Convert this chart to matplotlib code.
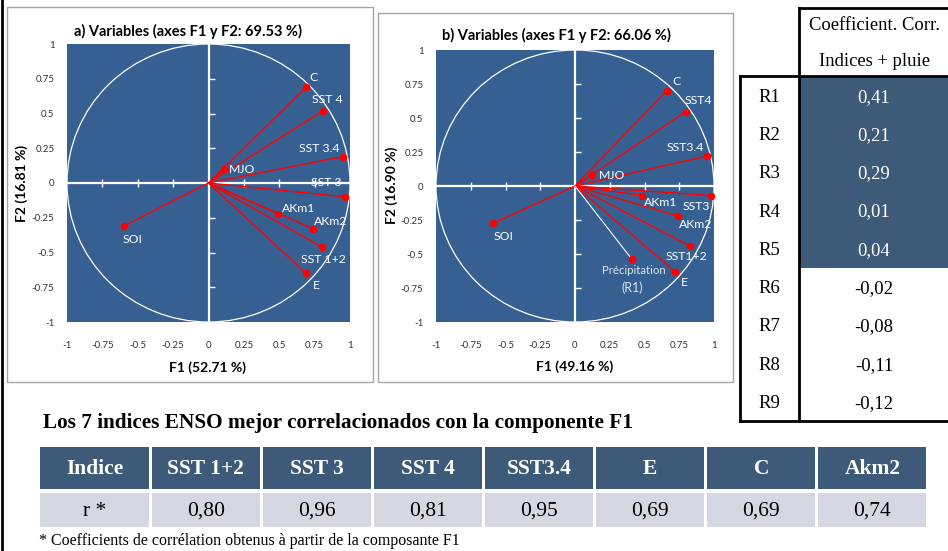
import numpy as np
import matplotlib.pyplot as plt
from matplotlib.patches import Rectangle, Circle

# cercle des correlations a) : indices ENSO seuls
names_a = ['C', 'SST 4', 'SST 3.4', 'SST 3', 'MJO', 'AKm1', 'AKm2', 'SST 1+2', 'E', 'SOI']
f1_a = [0.69, 0.81, 0.95, 0.965, 0.11, 0.49, 0.74, 0.80, 0.69, -0.60]
f2_a = [0.69, 0.52, 0.19, -0.10, 0.10, -0.22, -0.33, -0.46, -0.65, -0.31]

# cercle b) : indices + precipitation R1
names_b = ['C', 'SST4', 'SST3.4', 'MJO', 'SST3', 'AKm1', 'AKm2', 'SST1+2', 'E', 'SOI']
f1_b = [0.66, 0.795, 0.95, 0.12, 0.975, 0.485, 0.74, 0.825, 0.72, -0.59]
f2_b = [0.70, 0.545, 0.22, 0.08, -0.07, -0.07, -0.22, -0.44, -0.63, -0.275]
precip_b = (0.41, -0.54)

# tableau de droite
regions = ['R1', 'R2', 'R3', 'R4', 'R5', 'R6', 'R7', 'R8', 'R9']
corr_rain = [0.41, 0.21, 0.29, 0.01, 0.04, -0.02, -0.08, -0.11, -0.12]
n_blue = 5

# tableau du bas
enso_idx = ['SST 1+2', 'SST 3', 'SST 4', 'SST3.4', 'E', 'C', 'Akm2']
r_f1 = [0.80, 0.96, 0.81, 0.95, 0.69, 0.69, 0.74]

# position des etiquettes (unites des axes)
lab_a = [(0.74, 0.76), (0.84, 0.60), (0.78, 0.25), (0.835, 0.0), (0.24, 0.10),
         (0.635, -0.18), (0.86, -0.28), (0.81, -0.55), (0.765, -0.74), (-0.54, -0.41)]
lab_b = [(0.73, 0.77), (0.89, 0.63), (0.795, 0.28), (0.27, 0.08), (0.87, -0.15),
         (0.615, -0.12), (0.87, -0.28), (0.80, -0.515), (0.79, -0.71), (-0.515, -0.37)]

W, H = 948, 551
SANS = 'Lato'
SERIF = 'Liberation Serif'
PLOT_BG = '#366092'
TAB_BLUE = '#3d5a78'
TAB_GREY = '#d5d8e2'


def fmt(v):
    return ('%.2f' % v).replace('.', ',')


def px_axes(x0, y0, x1, y1):
    return fig.add_axes([x0 / W, 1 - y1 / H, (x1 - x0) / W, (y1 - y0) / H])


def circle_plot(ax, names, f1, f2, labpos):
    ax.set_facecolor(PLOT_BG)
    ax.set_xlim(-1, 1)
    ax.set_ylim(-1, 1)
    for s in ax.spines.values():
        s.set_visible(False)
    ticks = np.arange(-1, 1.01, 0.25)
    ax.set_xticks(ticks)
    ax.set_yticks(ticks)
    ax.set_xticklabels(['%g' % t for t in ticks])
    ax.set_yticklabels(['%g' % t for t in ticks])
    ax.tick_params(length=0, labelsize=7, labelcolor='#333333')
    ax.tick_params(axis='x', pad=14)
    ax.tick_params(axis='y', pad=9)
    for lab in ax.get_xticklabels() + ax.get_yticklabels():
        lab.set_family(SANS)
    ax.add_patch(Circle((0, 0), 1, fill=False, ec='white', lw=0.9))
    ax.axhline(0, color='white', lw=1.6)
    ax.axvline(0, color='white', lw=1.6)
    tk = ticks[(ticks != 0) & (np.abs(ticks) != 1)]
    ax.plot(tk, np.zeros_like(tk), ls='none', marker='|', ms=6, mew=1, color='white')
    ax.plot(np.zeros_like(tk), tk, ls='none', marker=1, ms=4, mew=1, color='white')
    for x, y in zip(f1, f2):
        ax.plot([0, x], [0, y], color='red', lw=1)
    ax.plot(f1, f2, 'o', color='red', ms=4.5)
    for n, (lx, ly) in zip(names, labpos):
        ax.text(lx, ly, n, color='white', fontsize=8.8, family=SANS,
                ha='center', va='center')


fig = plt.figure(figsize=(W / 100, H / 100), dpi=100)

# calque en pixels pour cadres, titres et tableaux
ov = fig.add_axes([0, 0, 1, 1])
ov.set_xlim(0, W)
ov.set_ylim(H, 0)
ov.axis('off')

ov.plot([2, 2], [0, H], color='black', lw=2)
ov.add_patch(Rectangle((7, 7), 366, 375, fill=False, ec='#a6a6a6', lw=1))
ov.add_patch(Rectangle((378, 13), 355, 369, fill=False, ec='#a6a6a6', lw=1))

tkw = dict(fontsize=10.5, weight='bold', family=SANS, ha='center', va='center')
ov.text(188, 31, 'a) Variables (axes F1 y F2: 69.53 %)', **tkw)
ov.text(556, 35, 'b) Variables (axes F1 y F2: 66.06 %)', **tkw)
lkw = dict(fontsize=10, weight='bold', family=SANS, ha='center', va='center')
ov.text(208, 368, 'F1 (52.71 %)', **lkw)
ov.text(575, 367, 'F1 (49.16 %)', **lkw)
ov.text(22, 183, 'F2 (16.81 %)', rotation=90, **lkw)
ov.text(392, 185, 'F2 (16.90 %)', rotation=90, **lkw)

ax_a = px_axes(67, 44, 350, 322)
circle_plot(ax_a, names_a, f1_a, f2_a, lab_a)

ax_b = px_axes(436, 50, 714, 322)
circle_plot(ax_b, names_b, f1_b, f2_b, lab_b)
ax_b.plot([0, precip_b[0]], [0, precip_b[1]], color='white', lw=0.8)
ax_b.plot(*precip_b, 'o', color='red', ms=4.5)
ax_b.text(precip_b[0] + 0.01, precip_b[1] - 0.085, 'Précipitation', color='#dde3ee',
          fontsize=8.2, family=SANS, ha='center', va='center')
ax_b.text(precip_b[0], precip_b[1] - 0.21, '(R1)', color='#dde3ee',
          fontsize=9, family=SANS, ha='center', va='center')

# tableau des correlations avec la pluie
row_h = 38.3
top = 76
ov.add_patch(Rectangle((799, top), W - 799, row_h * n_blue, color=TAB_BLUE, lw=0))
lk = dict(color='black', lw=2, solid_capstyle='projecting')
ov.plot([799, W], [8, 8], **lk)
ov.plot([799, 799], [8, top + row_h * len(regions)], **lk)
ov.plot([740, W], [top, top], **lk)
ov.plot([740, 740], [top, top + row_h * len(regions)], **lk)
ov.plot([740, W], [top + row_h * len(regions)] * 2, **lk)
ov.text(875, 26, 'Coefficient. Corr.', fontsize=13.4, family=SERIF, ha='center', va='center')
ov.text(875, 62, 'Indices + pluie', fontsize=13.4, family=SERIF, ha='center', va='center')
for i, (r, v) in enumerate(zip(regions, corr_rain)):
    yc = top + row_h * (i + 0.5) + 2
    ov.text(769, yc, r, fontsize=13.5, family=SERIF, ha='center', va='center')
    ov.text(874, yc, fmt(v), fontsize=13.5, family=SERIF, ha='center', va='center',
            color='white' if i < n_blue else 'black')

# tableau des 7 indices
ov.text(43, 423, 'Los 7 indices ENSO mejor correlacionados con la componente F1',
        fontsize=15.3, weight='bold', family=SERIF, ha='left', va='center')
x0, cw = 39, (928 - 39) / 8
head = ['Indice'] + enso_idx
vals = ['r *'] + [fmt(v) for v in r_f1]
for j in range(len(head)):
    xl = x0 + j * cw
    ov.add_patch(Rectangle((xl + 1.5, 447), cw - 3, 42, color=TAB_BLUE, lw=0))
    ov.add_patch(Rectangle((xl + 1.5, 493), cw - 3, 34, color=TAB_GREY, lw=0))
    ov.text(xl + cw / 2, 469, head[j], fontsize=15.5, weight='bold', family=SERIF,
            color='white', ha='center', va='center')
    ov.text(xl + cw / 2, 511, vals[j], fontsize=15.5, family=SERIF,
            ha='center', va='center')

ov.text(39, 541, '* Coefficients de corrélation obtenus à partir de la composante F1',
        fontsize=11.5, family=SERIF, ha='left', va='center')

fig.savefig('out.png', dpi=100)
